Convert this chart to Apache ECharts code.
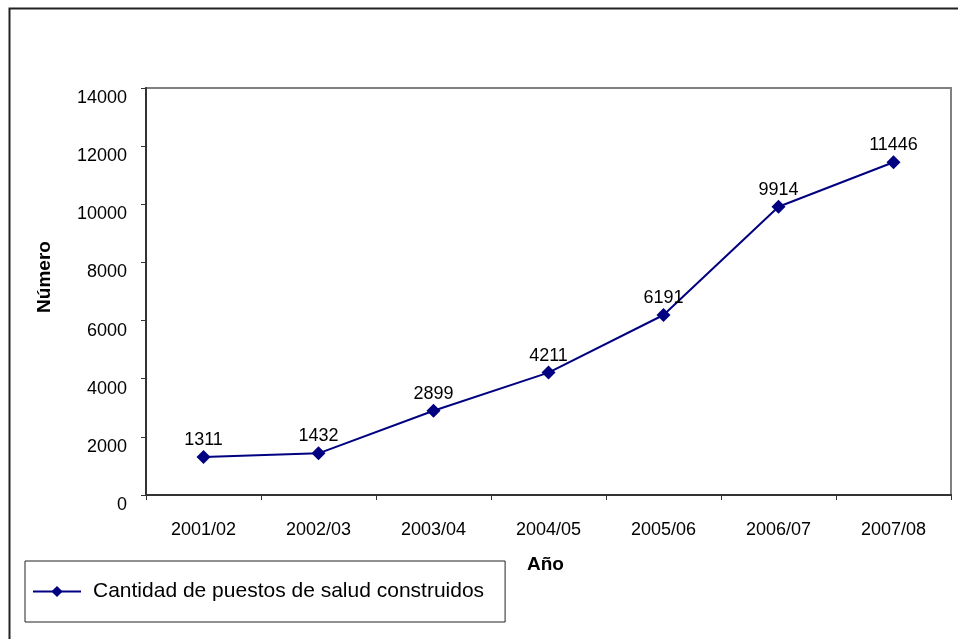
<!DOCTYPE html>
<html>
<head>
<meta charset="utf-8">
<script src="https://cdn.jsdelivr.net/npm/echarts@6/dist/echarts.min.js"></script>
<style>
html,body{margin:0;padding:0;background:#fff;}
#chart{width:958px;height:639px;}
</style>
</head>
<body>
<div id="chart"></div>
<script>
const categories = ['2001/02','2002/03','2003/04','2004/05','2005/06','2006/07','2007/08'];
const values = [1311, 1432, 2899, 4211, 6191, 9914, 11446];
const seriesName = 'Cantidad de puestos de salud construidos';
const yTicks = [0, 2000, 4000, 6000, 8000, 10000, 12000, 14000];

const chart = echarts.init(document.getElementById('chart'), null, {renderer:'canvas'});
const font = "'Liberation Sans', Arial, sans-serif";
chart.setOption({
  animation:false,
  backgroundColor:'#fff',
  grid:{left:146, top:88, right:7, bottom:144, show:true, borderColor:'#808080', borderWidth:2, backgroundColor:'transparent'},
  xAxis:{
    type:'category', data:categories, boundaryGap:true,
    axisLine:{lineStyle:{color:'#333', width:2}},
    axisTick:{show:true, alignWithLabel:false, length:5, lineStyle:{color:'#333', width:1}},
    axisLabel:{color:'#000', fontFamily:font, fontSize:18, margin:26},
    name:'Año', nameLocation:'middle', nameGap:60,
    nameTextStyle:{fontFamily:font, fontSize:19, fontWeight:'bold', color:'#000', padding:[0,6,0,0]}
  },
  yAxis:{
    type:'value', min:yTicks[0], max:yTicks[yTicks.length-1], interval:2000,
    splitLine:{show:false},
    axisLine:{show:true, lineStyle:{color:'#333', width:2}},
    axisTick:{show:true, length:5, lineStyle:{color:'#333', width:1}},
    axisLabel:{color:'#000', fontFamily:font, fontSize:18, margin:19, verticalAlign:'top', lineHeight:20,
      formatter:function(v){return String(v);}}
  },
  legend:{
    show:true, left:25, top:561,
    padding:[20,21,20,7],
    borderColor:'#222', borderWidth:1, backgroundColor:'#fff',
    itemWidth:48, itemHeight:14, itemGap:10,
    textStyle:{fontFamily:font, fontSize:21, color:'#000', padding:[0,0,0,7]},
    data:[seriesName]
  },
  graphic:[
    {type:'rect', left:7, top:6, shape:{width:960, height:640}, style:{fill:'none', stroke:'#222', lineWidth:2}, z:-1},
    {type:'text', x:45, y:277, rotation:Math.PI/2, style:{text:'Número', font:"bold 19px 'Liberation Sans', Arial, sans-serif", fill:'#000', textAlign:'center', textVerticalAlign:'middle'}}
  ],
  series:[{
    name:seriesName, type:'line', data:values,
    lineStyle:{color:'#000080', width:2},
    itemStyle:{color:'#000080'},
    symbol:'diamond', symbolSize:14,
    label:{show:true, position:'top', distance:1, color:'#000', fontFamily:font, fontSize:18}
  }]
});
</script>
</body>
</html>
